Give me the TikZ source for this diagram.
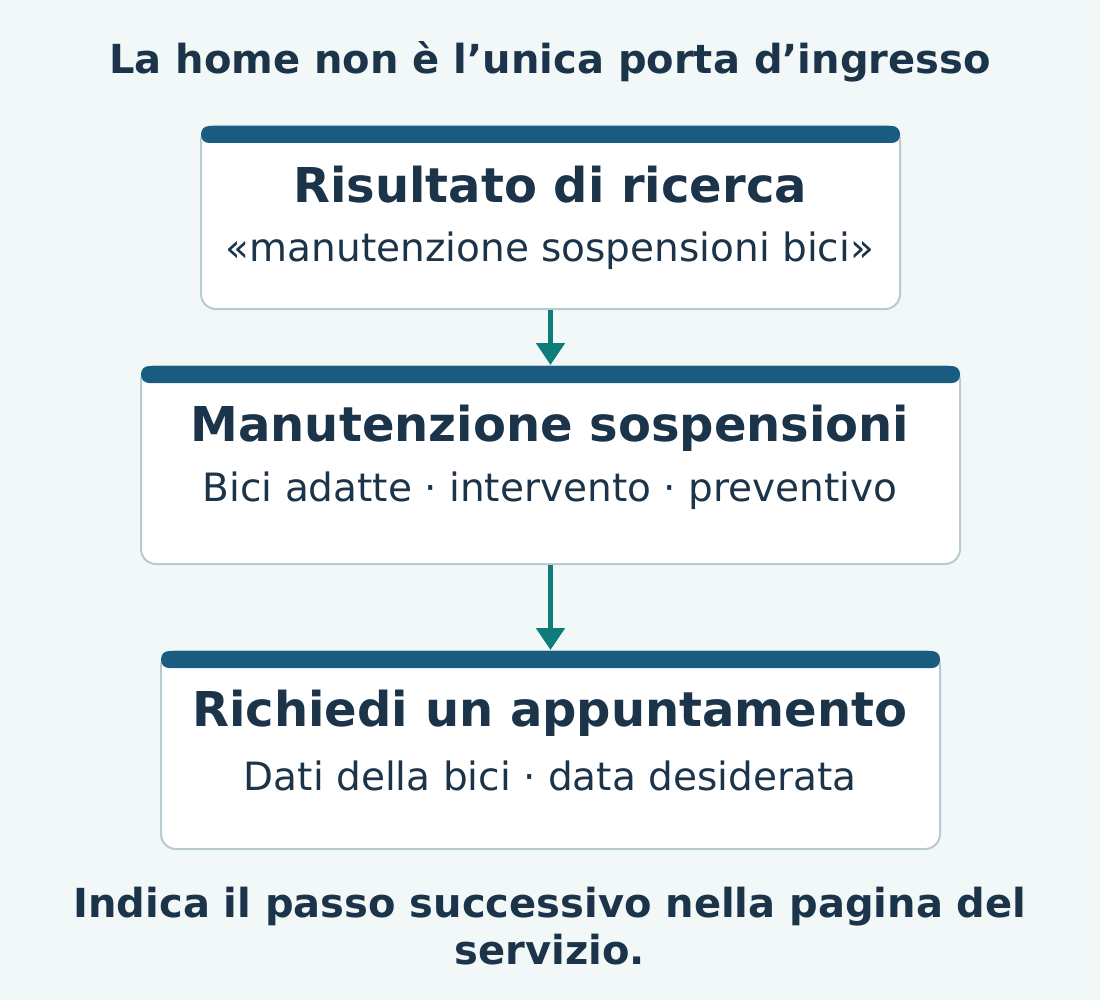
\documentclass[tikz,border=0pt]{standalone}
\usepackage{fontspec}
\setmainfont{DejaVu Sans}
\usetikzlibrary{arrows.meta}
\definecolor{bgcol}{HTML}{F2F7F8}
\definecolor{inkcol}{HTML}{1B3449}
\definecolor{headcol}{HTML}{1A5C80}
\definecolor{edgecol}{HTML}{B8CBD0}
\definecolor{arrowcol}{HTML}{0E7C7B}

\begin{document}
\begin{tikzpicture}[
    x=1pt, y=1pt,
    card/.style={%
      draw=edgecol,
      fill=white,
      line width=2pt,
      rounded corners=15pt,
      rectangle,
      inner sep=0pt,
    },
    bar/.style={%
      fill=headcol,
      rounded corners=8pt,
    },
    title/.style={%
      text=inkcol,
      font=\fontsize{48}{56}\selectfont\bfseries,
    },
    sub/.style={%
      text=inkcol,
      font=\fontsize{39}{46}\selectfont,
    },
    caption/.style={%
      text=inkcol,
      align=center,
      font=\fontsize{40}{47}\selectfont\bfseries,
    },
    link/.style={%
      draw=arrowcol,
      line width=5pt,
      -{Triangle[width=28pt,length=22pt]},
    },
  ]

    \fill [bgcol] (0,0) rectangle (1100,-1000);
    \useasboundingbox (0,0) rectangle (1100,-1000);

    \node [caption] (head) at (550,-62) {La home non è l’unica porta d’ingresso};

    % search result
    \node [card, minimum width=699, minimum height=183] (res) at (550.5,-217.5) {};
    \fill [bar] (201,-126) rectangle (900,-143);
    \node [title] (resT) at (550,-185) {Risultato di ricerca};
    \node [sub] (resS) at (550,-251) {«manutenzione sospensioni bici»};

    % service page
    \node [card, minimum width=819, minimum height=198] (man) at (550.5,-465) {};
    \fill [bar] (141,-366) rectangle (960,-383);
    \node [title] (manT) at (550,-428) {Manutenzione sospensioni};
    \node [sub] (manS) at (550,-491) {Bici adatte · intervento · preventivo};

    % booking
    \node [card, minimum width=779, minimum height=198] (app) at (550.5,-750) {};
    \fill [bar] (161,-651) rectangle (940,-668);
    \node [title] (appT) at (550,-713) {Richiedi un appuntamento};
    \node [sub] (appS) at (550,-776) {Dati della bici · data desiderata};

    \draw [link] (res.south) -- (man.north);
    \draw [link] (man.south) -- (app.north);

    \node [caption] (foot) at (550,-926) {Indica il passo successivo nella pagina del\\servizio.};

\end{tikzpicture}
\end{document}
